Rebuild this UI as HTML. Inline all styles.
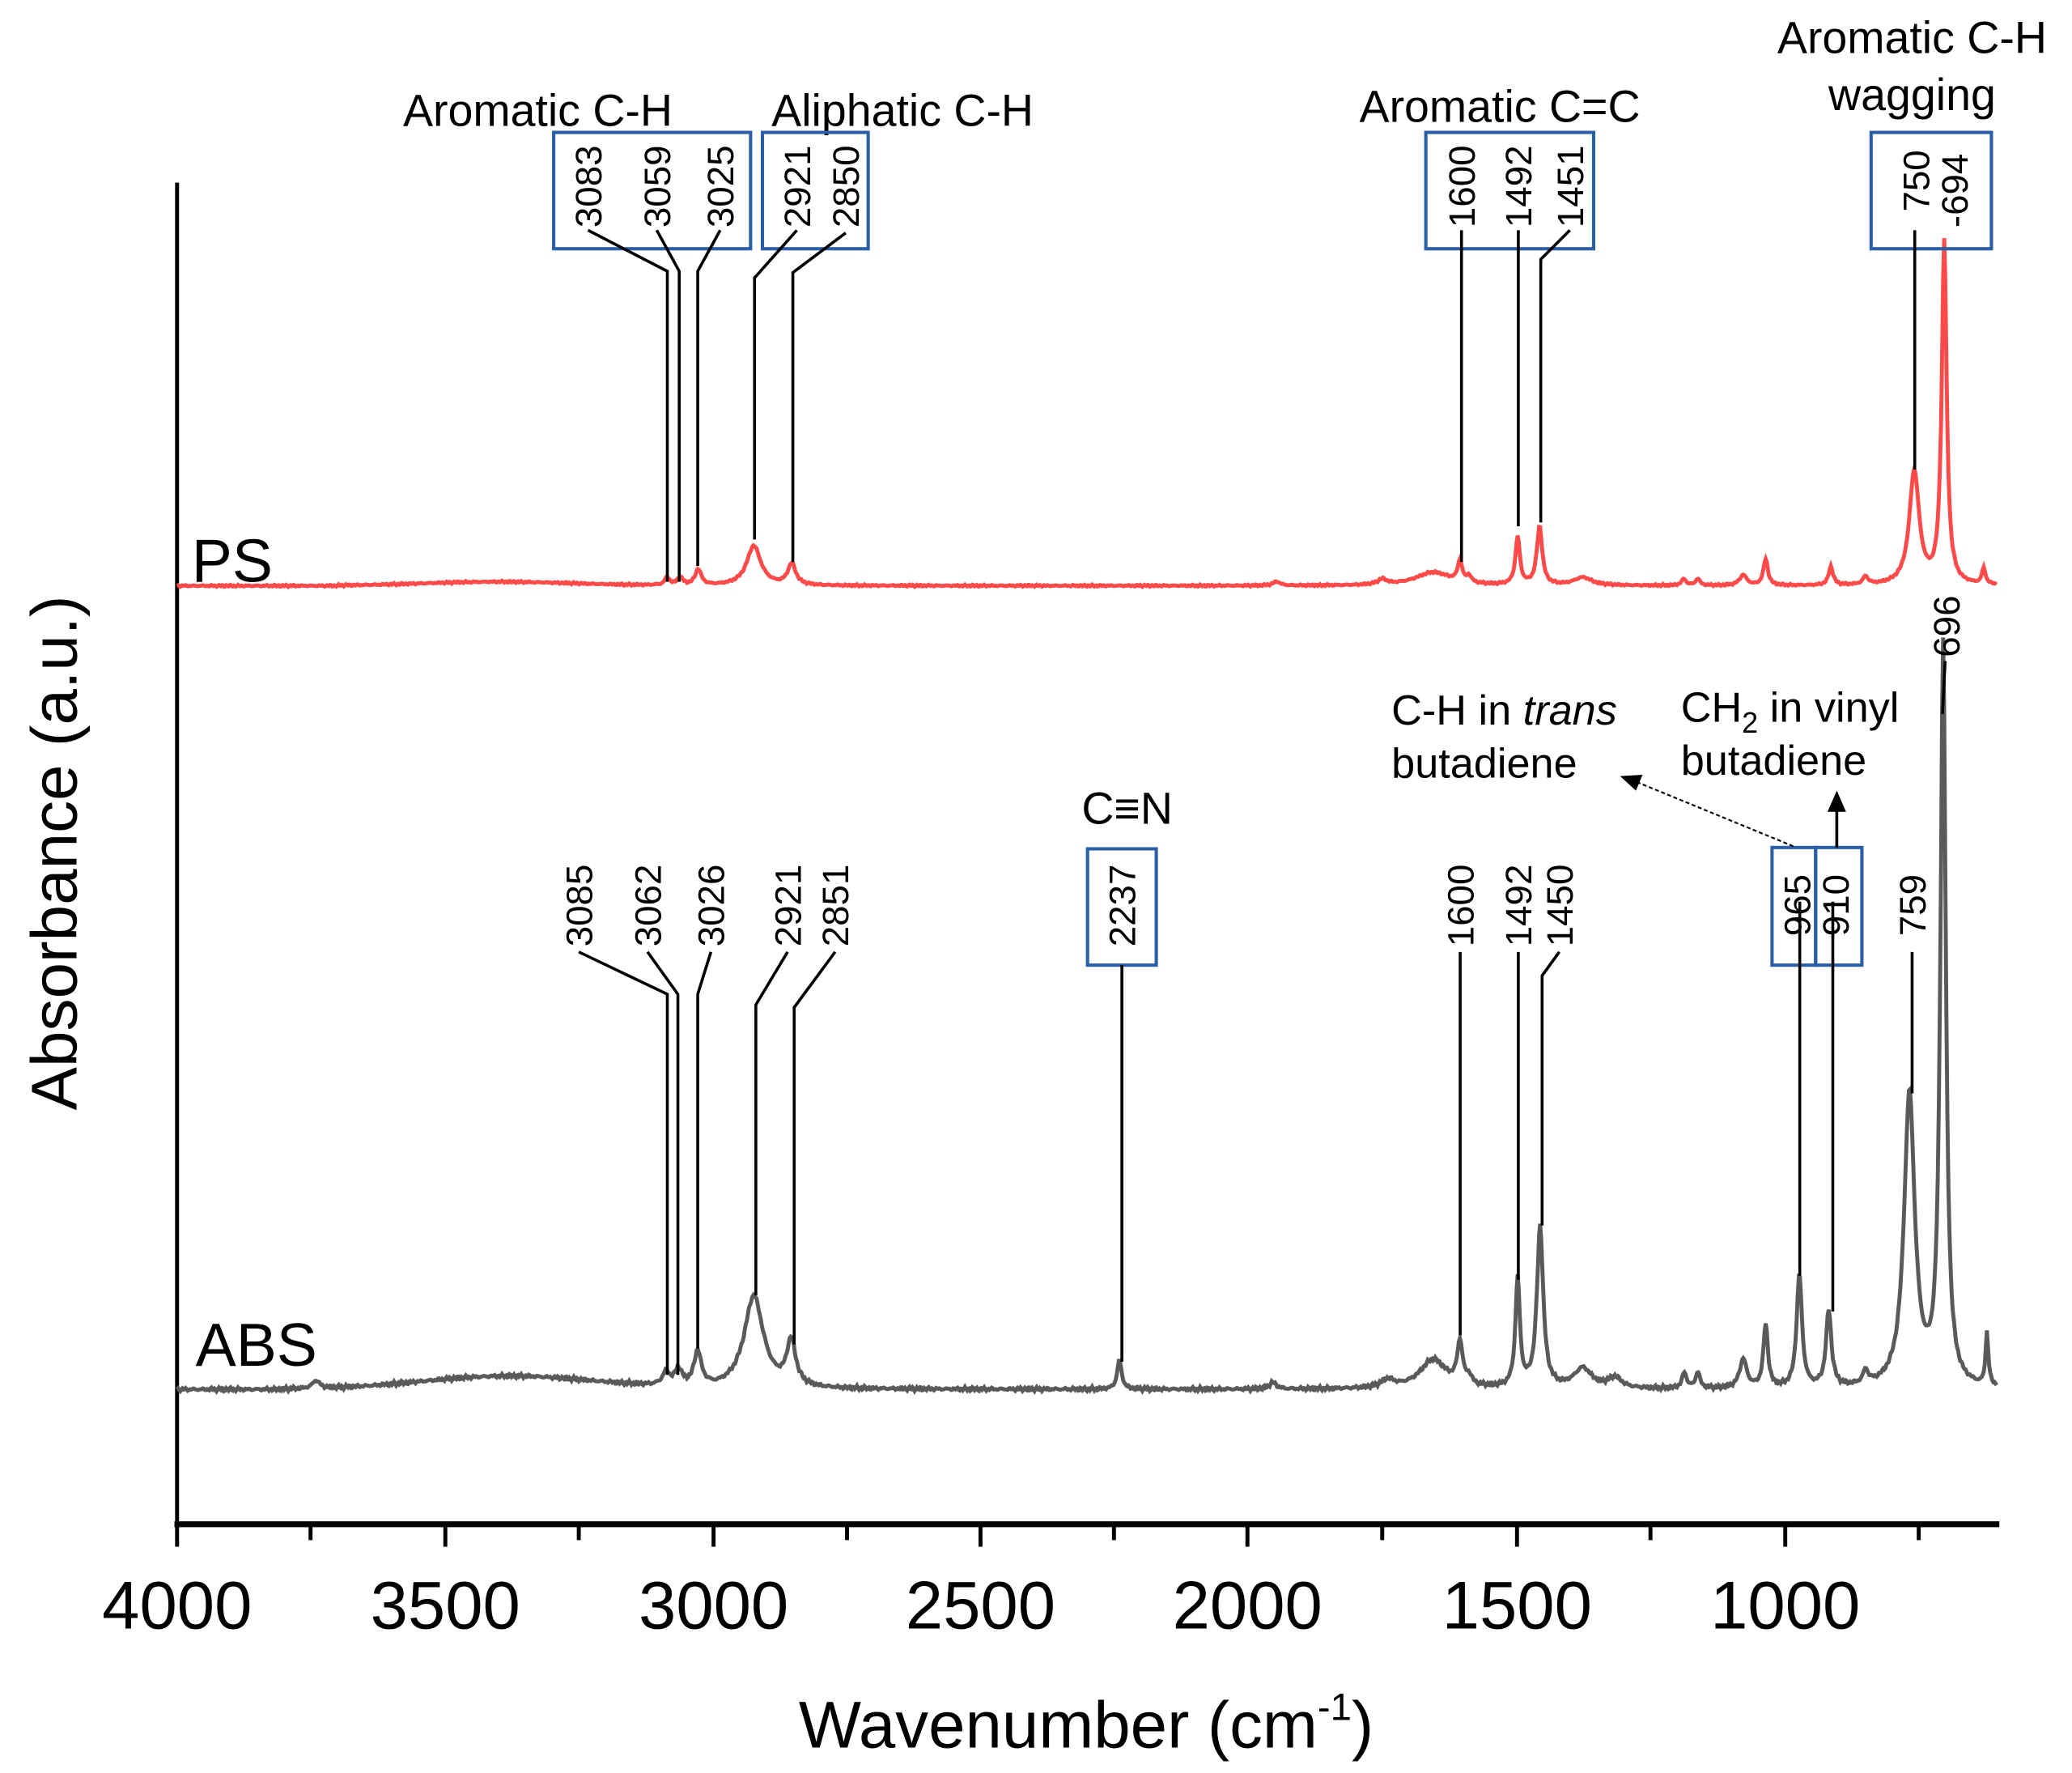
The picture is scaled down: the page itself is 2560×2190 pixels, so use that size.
<!DOCTYPE html>
<html><head><meta charset="utf-8"><style>
html,body{margin:0;padding:0;background:#fff;width:2560px;height:2190px;overflow:hidden}
svg{display:block}
text{font-family:"Liberation Sans",Arial,sans-serif;fill:#000}
</style></head><body>
<svg id="s" width="2560" height="2190" viewBox="0 0 1568 1341" xmlns="http://www.w3.org/2000/svg">
<line x1="134" y1="138" x2="134" y2="1155" stroke="#000" stroke-width="3"/>
<line x1="132" y1="1153" x2="1513" y2="1153" stroke="#000" stroke-width="4.5"/>
<g stroke="#000" stroke-width="3">
<line x1="134" y1="1153" x2="134" y2="1170"/><line x1="235" y1="1153" x2="235" y2="1165"/>
<line x1="337" y1="1153" x2="337" y2="1170"/><line x1="438" y1="1153" x2="438" y2="1165"/>
<line x1="540" y1="1153" x2="540" y2="1170"/><line x1="641" y1="1153" x2="641" y2="1165"/>
<line x1="742" y1="1153" x2="742" y2="1170"/><line x1="843" y1="1153" x2="843" y2="1165"/>
<line x1="944" y1="1153" x2="944" y2="1170"/><line x1="1046" y1="1153" x2="1046" y2="1165"/>
<line x1="1148" y1="1153" x2="1148" y2="1170"/><line x1="1249" y1="1153" x2="1249" y2="1165"/>
<line x1="1351" y1="1153" x2="1351" y2="1170"/><line x1="1452" y1="1153" x2="1452" y2="1165"/>
</g>
<g font-size="51" text-anchor="middle">
<text x="134" y="1232">4000</text><text x="337" y="1232">3500</text><text x="540" y="1232">3000</text>
<text x="742" y="1232">2500</text><text x="944" y="1232">2000</text><text x="1148" y="1232">1500</text>
<text x="1351" y="1232">1000</text>
</g>
<text x="822" y="1322" font-size="50" text-anchor="middle">Wavenumber (cm<tspan font-size="29" dy="-21">-1</tspan><tspan dy="21">)</tspan></text>
<text transform="translate(58,645) rotate(-90)" font-size="49" text-anchor="middle">Absorbance (a.u.)</text>
<text x="145" y="440" font-size="46">PS</text>
<text x="148" y="1033" font-size="46">ABS</text>

<path id="ps" fill="none" stroke="#ff4a4a" stroke-width="3"/>
<path id="abs" fill="none" stroke="#5a5a5a" stroke-width="3"/>

<g font-size="34" text-anchor="middle">
<text x="407" y="95">Aromatic C-H</text>
<text x="683" y="95">Aliphatic C-H</text>
<text x="1135" y="92">Aromatic C=C</text>
<text x="1447" y="40">Aromatic C-H</text>
<text x="1447" y="83">wagging</text>
<text x="853" y="623">C≡N</text>
</g>
<g font-size="32">
<text x="1053" y="548">C-H in <tspan font-style="italic">trans</tspan></text>
<text x="1053" y="588">butadiene</text>
<text x="1272" y="546">CH<tspan font-size="22" dy="8">2</tspan><tspan dy="-8"> in vinyl</tspan></text>
<text x="1272" y="586">butadiene</text>
</g>
<g fill="none" stroke="#2a5ea6" stroke-width="2.5">
<rect x="419" y="100" width="149" height="88"/>
<rect x="577" y="100" width="80" height="88"/>
<rect x="1079" y="100" width="127" height="88"/>
<rect x="1416" y="100" width="91" height="88"/>
<rect x="823" y="642" width="52" height="88"/>
<rect x="1341" y="641" width="33" height="89"/>
<rect x="1374" y="641" width="35" height="89"/>
</g>
<g font-size="28">
<text transform="translate(455,172) rotate(-90)">3083</text>
<text transform="translate(507,172) rotate(-90)">3059</text>
<text transform="translate(555,172) rotate(-90)">3025</text>
<text transform="translate(613,172) rotate(-90)">2921</text>
<text transform="translate(650,172) rotate(-90)">2850</text>
<text transform="translate(1116,172) rotate(-90)">1600</text>
<text transform="translate(1159,172) rotate(-90)">1492</text>
<text transform="translate(1198,172) rotate(-90)">1451</text>
<text transform="translate(1460,160) rotate(-90)">750</text>
<text transform="translate(1489,172) rotate(-90)">-694</text>
<text transform="translate(448,716) rotate(-90)">3085</text>
<text transform="translate(500,716) rotate(-90)">3062</text>
<text transform="translate(548,716) rotate(-90)">3026</text>
<text transform="translate(606,716) rotate(-90)">2921</text>
<text transform="translate(642,716) rotate(-90)">2851</text>
<text transform="translate(859,716) rotate(-90)">2237</text>
<text transform="translate(1115,716) rotate(-90)">1600</text>
<text transform="translate(1159,716) rotate(-90)">1492</text>
<text transform="translate(1190,716) rotate(-90)">1450</text>
<text transform="translate(1370,708) rotate(-90)">965</text>
<text transform="translate(1399,708) rotate(-90)">910</text>
<text transform="translate(1457,708) rotate(-90)">759</text>
<text transform="translate(1483,497) rotate(-90)">696</text>
</g>
<g fill="none" stroke="#000" stroke-width="2.2">
<polyline points="445,174 505,205 505,440"/>
<polyline points="497,174 514,205 514,440"/>
<polyline points="545,174 528,205 528,428"/>
<polyline points="603,174 571,210 571,408"/>
<polyline points="640,176 600,206 600,425"/>
<polyline points="1106,174 1106,425"/>
<polyline points="1149,174 1149,398"/>
<polyline points="1188,174 1166,196 1166,395"/>
<polyline points="1449,174 1449,355"/>
<polyline points="438,720 505,752 505,1040"/>
<polyline points="490,720 513,752 513,1040"/>
<polyline points="538,720 528,752 528,1020"/>
<polyline points="596,720 572,760 572,980"/>
<polyline points="632,720 601,762 601,1017"/>
<polyline points="849,730 849,1030"/>
<polyline points="1105,720 1105,1010"/>
<polyline points="1149,720 1149,968"/>
<polyline points="1180,720 1167,738 1167,927"/>
<polyline points="1362,682 1362,965"/>
<polyline points="1387,682 1387,992"/>
<polyline points="1447,720 1447,827"/>
<polyline points="1472,500 1470,540"/>
<polyline points="1390,641 1390,612"/>
</g>
<line x1="1357" y1="640" x2="1240" y2="592" stroke="#000" stroke-width="1.3" stroke-dasharray="3,2"/>
<polygon points="1226,587 1243,586 1238,598" fill="#000"/>
<polygon points="1390,598 1383,614 1397,614" fill="#000"/>
</svg>
<script>
function X(w){return 134+(4000-w)*0.4045;}
function L(w,c,g){var d=(w-c)/g;return 1/(1+d*d);}
function noise(w){return Math.sin(w*0.9)*0.5+Math.sin(w*2.3+1)*0.5+Math.sin(w*0.37)*0.4;}
function build(base,peaks,nz){
  var d="";
  for(var w=4000;w>=596;w-=2){
    var y=base(w);
    for(var i=0;i<peaks.length;i++){var p=peaks[i];y-=p[1]*L(w,p[0],p[2]);}
    y+=noise(w)*nz;
    d+=(d?"L":"M")+X(w).toFixed(1)+","+y.toFixed(1);
  }
  return d;
}
var psPeaks=[[3083,6,6],[3059,6,6],[3025,12,7],[2921,30,16],[2850,16,9],[1943,3,8],[1745,4,10],[1650,10,40],[1600,16,5],[1583,5,5],[1492,36,5],[1451,44,6],[1370,6,20],[1181,5,5],[1155,5,5],[1070,8,8],[1028,20,5],[906,14,5],[841,6,6],[750,86,11],[694,260,5.5],[620,12,4]];
document.getElementById('ps').setAttribute('d',build(function(w){return 443-(w>3100&&w<3700?3*Math.exp(-Math.pow((w-3400)/200,2)):0);},psPeaks,0.6));
var absPeaks=[[3740,6,8],[3085,10,8],[3062,12,8],[3026,26,8],[2921,70,22],[2851,34,10],[2237,22,5],[1950,5,8],[1735,6,15],[1650,22,30],[1600,32,6],[1583,6,6],[1492,82,5],[1450,122,7],[1370,15,20],[1310,8,15],[1180,12,5],[1155,12,5],[1070,22,8],[1028,48,5],[965,85,6],[910,58,6],[841,10,6],[759,222,12],[696,560,6],[614,40,3]];
document.getElementById('abs').setAttribute('d',build(function(w){return 1051-(w>3000&&w<3800?10*Math.exp(-Math.pow((w-3380)/230,2)):0);},absPeaks,1.2));
</script>
</body></html>
